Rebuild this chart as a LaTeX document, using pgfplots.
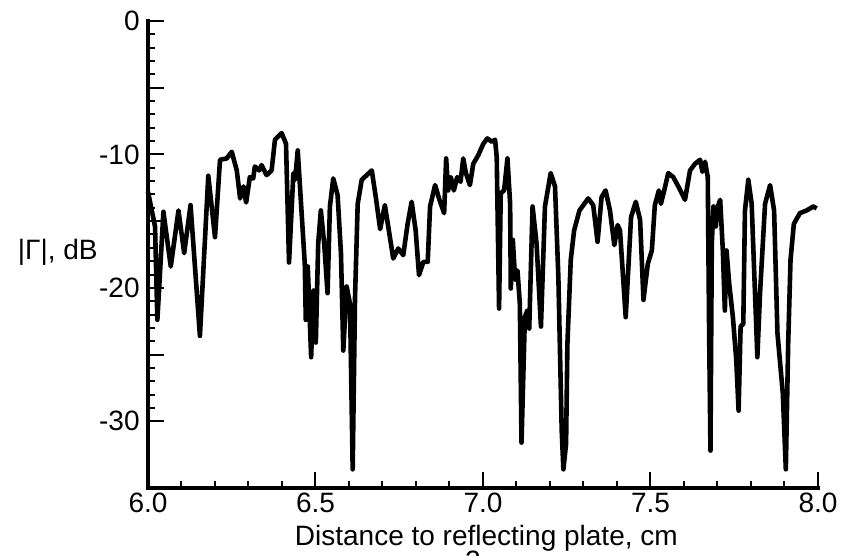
\documentclass[border=0pt]{standalone}
\usepackage{fontspec}
\setmainfont{Liberation Sans}
\usepackage{pgfplots}
\pgfplotsset{compat=1.18}

\begin{document}
\fontsize{14pt}{16pt}\selectfont
\begin{tikzpicture}
\begin{axis}[
  scale only axis, width=335pt, height=233.5pt,
  xmin=6, xmax=8, ymin=-35, ymax=0,
  axis x line*=bottom, axis y line*=left,
  axis line style={line width=2.2pt, line cap=rect},
  xtick={6,6.5,7,7.5,8}, xticklabels={6.0,6.5,7.0,7.5,8.0},
  ytick={-30,-25,-20,-15,-10,-5,0}, yticklabels={-30,,-20,,-10,,0},
  minor x tick num=4, minor y tick num=4,
  tick align=inside,
  major tick length=8pt, minor tick length=3.5pt,
  every tick/.style={black, line width=1pt},
  tick label style={font=\fontsize{14pt}{16pt}\selectfont},
  xticklabel style={inner sep=1pt, yshift=-1.5pt},
  yticklabel style={inner sep=2pt, xshift=-2pt},
  clip=false,
]
\addplot[black, line width=2.3pt, line join=round] coordinates {
(6.000,-12.8)(6.021,-15.4)(6.028,-22.4)(6.046,-14.3)(6.068,-18.4)
(6.091,-14.2)(6.108,-17.4)(6.127,-13.8)(6.155,-23.6)(6.180,-11.6)
(6.200,-16.2)(6.215,-10.4)(6.235,-10.3)(6.250,-9.8)(6.265,-11.2)
(6.275,-13.3)(6.285,-12.4)(6.293,-13.6)(6.304,-11.7)(6.314,-11.8)
(6.319,-10.9)(6.332,-11.2)(6.339,-10.8)(6.354,-11.55)(6.369,-11.2)
(6.379,-8.9)(6.399,-8.4)(6.412,-9.2)(6.421,-18.1)(6.434,-11.4)
(6.439,-11.9)(6.447,-9.7)(6.468,-18.2)(6.471,-22.4)(6.477,-18.4)
(6.487,-25.2)(6.494,-20.2)(6.501,-24.1)(6.508,-16.7)(6.516,-14.2)
(6.526,-16.7)(6.536,-20.4)(6.543,-13.9)(6.553,-11.8)(6.566,-13.05)
(6.576,-17.4)(6.583,-24.7)(6.593,-19.9)(6.603,-21.2)(6.611,-33.6)
(6.618,-20.7)(6.626,-13.7)(6.638,-11.9)(6.653,-11.55)(6.668,-11.2)
(6.680,-13.2)(6.693,-15.6)(6.707,-13.8)(6.719,-15.7)(6.732,-17.8)
(6.747,-17.05)(6.762,-17.55)(6.775,-15.2)(6.787,-13.55)(6.799,-15.7)
(6.809,-19.05)(6.822,-18.05)(6.835,-18.05)(6.842,-13.9)(6.857,-12.3)
(6.870,-13.4)(6.884,-14.4)(6.890,-10.3)(6.896,-12.7)(6.904,-11.7)
(6.913,-12.7)(6.923,-11.7)(6.933,-12.05)(6.941,-10.3)(6.949,-11.4)
(6.961,-12.3)(6.971,-10.7)(6.986,-10.05)(7.001,-9.2)(7.013,-8.8)
(7.026,-9.05)(7.036,-8.9)(7.041,-10.2)(7.048,-21.55)(7.053,-12.9)
(7.063,-12.7)(7.073,-10.3)(7.081,-13.7)(7.083,-20.05)(7.089,-16.4)
(7.096,-19.4)(7.103,-18.7)(7.110,-21.2)(7.115,-31.6)(7.125,-22.2)
(7.132,-21.7)(7.138,-23.05)(7.148,-13.9)(7.160,-16.7)(7.173,-22.9)
(7.185,-13.9)(7.202,-11.4)(7.215,-12.4)(7.225,-19.2)(7.235,-30.7)
(7.240,-33.6)(7.248,-31.7)(7.252,-24.2)(7.262,-17.9)(7.272,-15.7)
(7.288,-14.2)(7.314,-13.3)(7.329,-13.8)(7.342,-16.55)(7.354,-13.2)
(7.366,-12.7)(7.379,-14.2)(7.392,-16.8)(7.402,-15.3)(7.409,-15.7)
(7.426,-22.2)(7.442,-14.7)(7.456,-13.55)(7.469,-14.9)(7.479,-20.9)
(7.492,-18.2)(7.504,-17.2)(7.513,-13.8)(7.525,-12.7)(7.531,-13.7)
(7.541,-12.7)(7.553,-11.4)(7.568,-11.7)(7.583,-12.4)(7.603,-13.4)
(7.618,-11.2)(7.633,-10.7)(7.648,-10.4)(7.655,-11.3)(7.663,-10.55)
(7.671,-11.7)(7.675,-23.2)(7.679,-32.2)(7.683,-16.7)(7.688,-13.9)
(7.695,-15.4)(7.701,-13.9)(7.708,-13.4)(7.716,-17.2)(7.722,-21.7)
(7.727,-17.2)(7.735,-19.7)(7.746,-22.2)(7.756,-25.4)(7.763,-29.2)
(7.769,-22.9)(7.777,-22.7)(7.782,-14.2)(7.792,-11.9)(7.802,-13.7)
(7.812,-20.4)(7.819,-25.2)(7.827,-20.4)(7.842,-13.7)(7.857,-12.3)
(7.869,-14.2)(7.879,-23.4)(7.895,-27.9)(7.904,-33.6)(7.911,-24.2)
(7.918,-17.9)(7.928,-15.2)(7.946,-14.4)(7.966,-14.2)(7.986,-13.9)
(7.996,-14.05)
};
\node[anchor=east, inner sep=0pt] at (rel axis cs:0,0.505) [xshift=-25pt] {|Γ|, dB};
\node[anchor=center, inner sep=0pt] at (rel axis cs:0.505,0) [yshift=-25pt] {Distance to reflecting plate, cm};
\node[anchor=north, inner sep=0pt] at (rel axis cs:0.485,0) [yshift=-31.5pt] {2};
\end{axis}
\pgfresetboundingbox
\path[use as bounding box] (-74pt,-34pt) rectangle (347.5pt,244pt);
\end{tikzpicture}
\end{document}
